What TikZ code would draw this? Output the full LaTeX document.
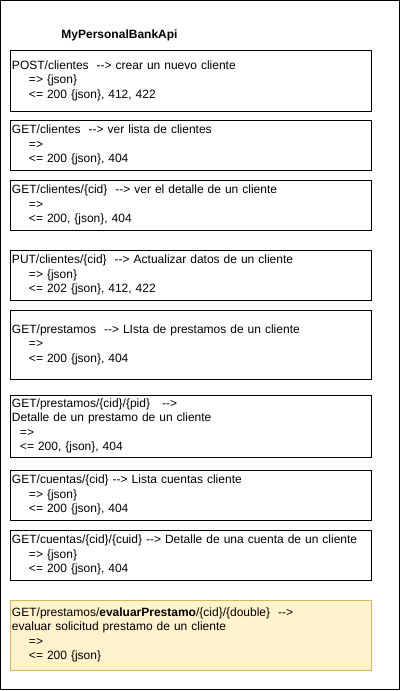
\documentclass[tikz,border=0pt]{standalone}
\usepackage{fontspec}
\setmainfont{Liberation Sans}
\usepackage{xcolor}
\usetikzlibrary{positioning}

\definecolor{notefill}{HTML}{FFF2CC}
\definecolor{notedraw}{HTML}{D6B656}
\newcommand{\arrw}{-\kern0pt-\kern0pt>}
\newcommand{\ind}{\hspace*{17pt}}
\newcommand{\sind}{\hspace*{8pt}}

\begin{document}
\begin{tikzpicture}[x=1pt, y=-1pt,
    endpoint/.style={draw=black, line width=1pt, outer sep=0pt,
        minimum width=361pt, text width=357pt, inner xsep=2pt, inner ysep=0pt,
        align=left, font=\fontsize{12}{14.4}\selectfont},
    note/.style={endpoint, draw=notedraw, fill=notefill}]

        \useasboundingbox (0,0) rectangle (401,691);
        \draw[line width=1pt] (0.5,0.5) rectangle (399.5,689.5);

        \node[font=\bfseries\fontsize{12}{14.4}\selectfont] (title) at (119.5,35) {MyPersonalBankApi};

        \node[endpoint, minimum height=61pt, anchor=north west] (post) at (10,50)
            {POST/clientes\ \ \arrw{} crear un nuevo cliente\\ \ind=> \{json\}\\ \ind<= 200 \{json\}, 412, 422};
        \node[endpoint, minimum height=50pt] (getcli) [below=9pt of post]
            {GET/clientes\ \ \arrw{} ver lista de clientes\\ \ind=>\\ \ind<= 200 \{json\}, 404};
        \node[endpoint, minimum height=50pt] (getcid) [below=10pt of getcli]
            {GET/clientes/\{cid\}\ \ \arrw{} ver el detalle de un cliente\\ \ind=>\\ \ind<= 200, \{json\}, 404};
        \node[endpoint, minimum height=50pt] (putcli) [below=20pt of getcid]
            {PUT/clientes/\{cid\}\ \ \arrw{} Actualizar datos de un cliente\\ \ind=> \{json\}\\ \ind<= 202 \{json\}, 412, 422};
        \node[endpoint, minimum height=69pt] (getpre) [below=10pt of putcli]
            {GET/prestamos\ \ \arrw{} LIsta de prestamos de un cliente\\ \ind=>\\ \ind<= 200 \{json\}, 404};
        \node[endpoint, minimum height=62pt] (getpid) [below=16pt of getpre]
            {GET/prestamos/\{cid\}/\{pid\}\ \ \ \arrw\\ Detalle de un prestamo de un cliente\\ \sind=>\\ \sind<= 200, \{json\}, 404};
        \node[endpoint, minimum height=50pt] (getcta) [below=13pt of getpid]
            {GET/cuentas/\{cid\} \arrw{} Lista cuentas cliente\\ \ind=> \{json\}\\ \ind<= 200 \{json\}, 404};
        \node[endpoint, minimum height=50pt] (getcuid) [below=10pt of getcta]
            {GET/cuentas/\{cid\}/\{cuid\} \arrw{} Detalle de una cuenta de un cliente\\ \ind=> \{json\}\\ \ind<= 200 \{json\}, 404};
        \node[note, minimum height=70pt] (evalpre) [below=20pt of getcuid]
            {GET/prestamos/\textbf{evaluarPrestamo}/\{cid\}/\{double\}\ \ \arrw\\ evaluar solicitud prestamo de un cliente\\ \ind=>\\ \ind<= 200 \{json\}};

\end{tikzpicture}
\end{document}
